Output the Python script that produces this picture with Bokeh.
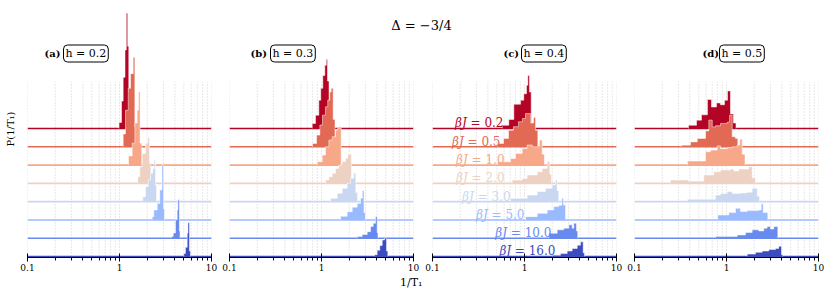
import numpy as np
from bokeh.plotting import figure
from bokeh.layouts import row, column
from bokeh.models import Range1d, FixedTicker, Label, ColumnDataSource, CustomJSTickFormatter, Title
from bokeh.embed import file_html
from bokeh.resources import INLINE
from bokeh.core.properties import value

# ---------------- data ----------------
BETA_J = [0.2, 0.5, 1.0, 2.0, 3.0, 5.0, 10.0, 16.0]
H_VALUES = [0.2, 0.3, 0.4, 0.5]
PANEL_TAGS = ["(a)", "(b)", "(c)", "(d)"]
X_MAJOR = [0.1, 1, 10]
X_MINOR = [0.2, 0.3, 0.4, 0.5, 0.6, 0.7, 0.8, 0.9, 2, 3, 4, 5, 6, 7, 8, 9]
COLORS = ["#b40426", "#e26953", "#f7a889", "#edd1c2", "#c9d8f0", "#9abaff", "#688aee", "#3b4cc0"]

# histogram bin edges, log10(1/T1), and heights (in units of row spacing)
LOGE_A = [
    [-0.005, 0.022, 0.040, 0.060, 0.074, 0.089, 0.101, 0.114],
    [0.040, 0.065, 0.095, 0.120, 0.149, 0.167, 0.192],
    [0.098, 0.138, 0.167, 0.192, 0.207, 0.224, 0.242],
    [0.199, 0.221, 0.247, 0.283, 0.308, 0.326, 0.340],
    [0.253, 0.283, 0.312, 0.337, 0.362, 0.377, 0.391, 0.402],
    [0.355, 0.373, 0.410, 0.438, 0.462, 0.479, 0.489],
    [0.565, 0.584, 0.609, 0.627, 0.635, 0.651, 0.658],
    [0.699, 0.717, 0.736, 0.744, 0.760, 0.772],
]
HGT_A = [
    [0.33, 1.5, 2.8, 4.3, 6.3, 4.5, 2.0],
    [0.7, 2.0, 3.2, 4.0, 4.9, 1.1],
    [0.5, 1.2, 2.3, 3.0, 4.0, 1.2],
    [0.36, 0.91, 1.64, 2.2, 2.5, 1.1],
    [0.27, 0.82, 1.19, 1.55, 1.8, 2.28, 0.9],
    [0.18, 0.55, 0.9, 1.64, 3.0, 0.6],
    [0.1, 0.29, 1.0, 1.55, 2.1, 0.4],
    [0.16, 0.5, 1.27, 1.85, 0.3],
]
LOGE_B = [
    [-0.101, -0.065, -0.029, -0.008, 0.014, 0.036, 0.052, 0.065, 0.082],
    [-0.098, -0.054, -0.018, 0.011, 0.043, 0.068, 0.090, 0.105, 0.127, 0.147],
    [-0.047, 0.008, 0.043, 0.080, 0.116, 0.152, 0.171, 0.188, 0.214],
    [0.043, 0.080, 0.116, 0.152, 0.188, 0.225, 0.261, 0.286, 0.326],
    [0.098, 0.171, 0.225, 0.279, 0.315, 0.351, 0.373, 0.391],
    [0.207, 0.279, 0.334, 0.388, 0.424, 0.444, 0.462, 0.478],
    [0.388, 0.442, 0.497, 0.533, 0.562, 0.587, 0.605, 0.614],
    [0.576, 0.605, 0.634, 0.660, 0.685, 0.707, 0.721],
]
HGT_B = [
    [0.27, 0.73, 1.55, 2.2, 2.9, 3.46, 3.77, 2.6],
    [0.18, 0.64, 1.19, 1.73, 2.19, 2.55, 3.0, 3.2, 1.5],
    [0.18, 0.55, 1.0, 1.37, 1.55, 1.91, 2.0, 2.1],
    [0.18, 0.36, 0.55, 0.82, 1.0, 1.19, 1.37, 1.6],
    [0.18, 0.46, 0.73, 1.0, 1.28, 1.55, 0.5],
    [0.2, 0.45, 0.7, 0.9, 1.19, 1.6, 0.4],
    [0.09, 0.2, 0.36, 0.64, 0.82, 1.18, 0.3],
    [0.1, 0.34, 0.6, 0.9, 1.0, 0.3],
]
LOGE_C = [
    [-0.242, -0.171, -0.116, -0.043, -0.008, 0.022, 0.036, 0.054, 0.073],
    [-0.293, -0.228, -0.174, -0.120, -0.065, -0.022, 0.011, 0.065, 0.098, 0.120, 0.145],
    [-0.293, -0.152, -0.098, -0.025, 0.029, 0.084, 0.163, 0.192, 0.217],
    [-0.134, -0.025, 0.029, 0.138, 0.192, 0.247, 0.275, 0.293],
    [-0.152, 0.029, 0.138, 0.228, 0.301, 0.337, 0.355, 0.373],
    [0.011, 0.138, 0.247, 0.318, 0.373, 0.406, 0.424, 0.446],
    [0.264, 0.355, 0.427, 0.482, 0.518, 0.536, 0.565, 0.579],
    [0.301, 0.391, 0.464, 0.518, 0.573, 0.609, 0.638, 0.652],
]
HGT_C = [
    [0.18, 0.5, 1.33, 1.55, 1.9, 2.37, 2.9, 2.0],
    [0.18, 0.46, 0.91, 1.1, 1.37, 1.55, 1.82, 1.3, 1.6, 0.9],
    [0.18, 0.36, 0.64, 0.91, 1.1, 1.0, 1.37, 0.6],
    [0.18, 0.27, 0.46, 0.64, 0.82, 1.2, 0.5],
    [0.18, 0.36, 0.55, 0.73, 0.91, 1.19, 0.6],
    [0.18, 0.36, 0.55, 0.73, 0.8, 1.19, 0.82],
    [0.27, 0.46, 0.55, 0.73, 0.55, 0.82, 0.4],
    [0.07, 0.16, 0.3, 0.44, 0.62, 0.8, 0.2],
]
LOGE_D = [
    [-0.413, -0.326, -0.272, -0.207, -0.163, -0.109, -0.065, -0.022, 0.011, 0.043, 0.076, 0.103],
    [-0.489, -0.391, -0.318, -0.228, -0.192, -0.155, -0.120, -0.065, 0.008, 0.033, 0.062, 0.098, 0.123],
    [-0.424, -0.228, -0.174, -0.101, -0.065, 0.008, 0.062, 0.116, 0.145, 0.171, 0.201],
    [-0.609, -0.413, -0.247, -0.138, -0.065, 0.043, 0.080, 0.134, 0.242, 0.279, 0.315],
    [-0.427, -0.120, -0.065, 0.008, 0.062, 0.152, 0.225, 0.279, 0.334, 0.359],
    [-0.095, 0.025, 0.098, 0.152, 0.225, 0.351, 0.377, 0.399, 0.449],
    [-0.120, 0.116, 0.207, 0.279, 0.351, 0.405, 0.442, 0.478, 0.514, 0.558],
    [0.225, 0.315, 0.388, 0.460, 0.533, 0.568, 0.598, 0.612],
]
HGT_D = [
    [0.18, 0.46, 0.75, 1.59, 1.18, 1.4, 1.3, 1.55, 2.06, 0.8, 0.3],
    [0.09, 0.27, 0.46, 0.87, 1.46, 1.09, 1.15, 1.28, 1.35, 1.73, 0.55, 0.46],
    [0.22, 0.73, 0.82, 1.05, 0.9, 0.95, 1.0, 1.1, 1.42, 0.6],
    [0.18, 0.12, 0.46, 0.64, 0.73, 0.78, 0.68, 0.78, 0.91, 0.3],
    [0.13, 0.36, 0.45, 0.55, 0.45, 0.48, 0.52, 0.73, 0.3],
    [0.27, 0.4, 0.64, 0.46, 0.51, 0.55, 0.88, 0.4],
    [0.09, 0.18, 0.31, 0.46, 0.4, 0.55, 0.64, 0.5, 0.64],
    [0.13, 0.23, 0.3, 0.38, 0.44, 0.56, 0.1],
]

# ---------------- layout constants ----------------
SERIF = "DejaVu Serif"
XLIM = (0.1, 10)
Y0 = -0.055
PX_PER_ROW = 18.28
GRID_TOP = 9.55
BJ_LABEL_X = [0.591, 0.548, 0.607, 0.607, 0.705, 1.0, 1.96, 2.17]   # right end of labels in panel (c)
TAG_POS = [(17, 36), (21, 41), (71, 89), (68, 85)]  # screen offsets from frame left
NROW = len(BETA_J)
MB_BOTTOM = 34


def step_outline(log_edges, heights, base):
    e = 10 ** np.asarray(log_edges, dtype=float)
    xs, ys = [e[0]], [base]
    for j, h in enumerate(heights):
        xs += [e[j], e[j + 1]]
        ys += [base + h, base + h]
    xs.append(e[-1])
    ys.append(base)
    return xs, ys


def num_width(s):
    return 10.1 + 3.8 + sum(7.6 if ch.isdigit() else 3.8 for ch in s)


def make_panel(idx, loge, hgt, width, height, mb_left, mb_right, ylabel=None):
    frame_h = height - MB_BOTTOM
    top = Y0 + frame_h / PX_PER_ROW
    p = figure(width=width, height=height, x_axis_type="log",
               y_axis_type="linear" if ylabel else None,
               x_range=Range1d(*XLIM), y_range=Range1d(Y0, top),
               output_backend="svg", toolbar_location=None,
               min_border_left=mb_left, min_border_right=mb_right,
               min_border_top=0, min_border_bottom=MB_BOTTOM)
    p.outline_line_color = None
    p.grid.visible = False
    p.background_fill_color = "white"

    ax = p.xaxis[0]
    ax.ticker = FixedTicker(ticks=X_MAJOR, minor_ticks=X_MINOR)
    ax.formatter = CustomJSTickFormatter(code="return tick < 1 ? tick.toFixed(1) : tick.toFixed(0);")
    ax.axis_line_color = "black"
    ax.axis_line_width = 1
    ax.major_tick_in = 4
    ax.major_tick_out = 4
    ax.minor_tick_in = 0
    ax.minor_tick_out = 3
    ax.major_tick_line_color = "black"
    ax.minor_tick_line_color = "black"
    ax.major_label_standoff = 2
    ax.major_label_text_font = SERIF
    ax.major_label_text_font_size = "9px"
    ax.major_label_text_color = "black"

    if ylabel:
        ya = p.yaxis[0]
        ya.ticker = FixedTicker(ticks=[])
        ya.axis_line_color = None
        ya.major_tick_out = 0
        ya.major_tick_in = 0
        ya.minor_tick_out = 0
        ya.major_label_standoff = 0
        ya.axis_label = ylabel
        ya.axis_label_standoff = 12
        ya.axis_label_text_font = SERIF
        ya.axis_label_text_font_size = "10px"
        ya.axis_label_text_font_style = "normal"
        ya.axis_label_text_color = "black"

    gx = X_MAJOR + X_MINOR
    p.segment(x0=gx, y0=[0] * len(gx), x1=gx, y1=[GRID_TOP] * len(gx),
              line_color="#c4c4c4", line_width=0.8, line_dash="1 2")

    for k in range(NROW):
        base = NROW - 1 - k
        c = COLORS[k]
        p.line(x=list(XLIM), y=[base, base], line_color=c, line_width=1.6)
        xs, ys = step_outline(loge[k], hgt[k], base)
        p.patch(x=xs, y=ys, fill_color=c, line_color=None)
        p.line(x=xs, y=ys, line_color="white", line_width=0.5)

    tx, bx = TAG_POS[idx]
    p.add_layout(Label(x=tx, y=204, x_units="screen", y_units="screen", text=PANEL_TAGS[idx],
                       text_font=SERIF, text_font_size="10px", text_font_style="bold",
                       text_baseline="middle", text_align="left", text_color="black"))
    p.add_layout(Label(x=bx, y=204, x_units="screen", y_units="screen", text=f"h = {H_VALUES[idx]}",
                       text_font=SERIF, text_font_size="11px", text_baseline="middle",
                       text_align="left", text_color="black",
                       border_line_color="black", border_line_width=1, border_radius=4,
                       padding=2, background_fill_color="white"))
    return p


# panel sizes (page has no margin: canvases start at 0,0)
fa = make_panel(0, LOGE_A, HGT_A, 220, 291, 27, 9, ylabel="P(1/T₁)")
fb = make_panel(1, LOGE_B, HGT_B, 202, 255, 9, 9)
fc = make_panel(2, LOGE_C, HGT_C, 203, 255, 10, 9)
fd = make_panel(3, LOGE_D, HGT_D, 204, 255, 9, 11)

# beta J labels in panel (c)
nums = ["= %.1f" % b for b in BETA_J]
lab_src = ColumnDataSource(dict(
    x=BJ_LABEL_X,
    y=[NROW - 1 - k + 0.28 for k in range(NROW)],
    num=nums,
    bj=["βJ"] * NROW,
    off=[-(num_width(s[2:]) + 3.8) for s in nums],
    color=COLORS,
))
fc.text(x="x", y="y", text="num", source=lab_src, text_color="color", text_align="right",
        text_baseline="alphabetic", text_font=value(SERIF), text_font_size="12px")
fc.text(x="x", y="y", text="bj", source=lab_src, text_color="color", text_align="right",
        text_baseline="alphabetic", text_font=value(SERIF), text_font_size="12px",
        text_font_style="italic", x_offset="off")

# x label below panels (b)/(c), right-aligned into the gap
fb.add_layout(Title(text="1/T₁", align="right", offset=-9, standoff=0,
                    text_font=SERIF, text_font_size="11px", text_font_style="normal",
                    text_color="black"), "below")

# header with overall title
hdr = figure(width=609, height=36, x_range=Range1d(0, 1), y_range=Range1d(0, 1),
             x_axis_type=None, y_axis_type=None, toolbar_location=None,
             output_backend="svg", min_border=0)
hdr.outline_line_color = None
hdr.add_layout(Label(x=201, y=11, x_units="screen", y_units="screen", text="Δ = −3/4",
                     text_font=SERIF, text_font_size="13px", text_align="center",
                     text_baseline="middle", text_color="black"))

layout = row(fa, column(hdr, row(fb, fc, fd)))

with open("out.html", "w") as f:
    f.write(file_html(layout, INLINE))
